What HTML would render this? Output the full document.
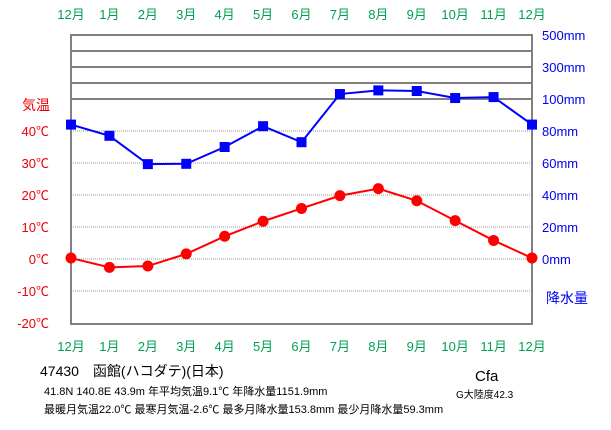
<!DOCTYPE html>
<html><head><meta charset="utf-8"><style>
body{margin:0;background:#fff;width:611px;height:425px;overflow:hidden}
svg{font-family:"Liberation Sans","Noto Sans CJK JP",sans-serif}
</style></head><body>
<svg id="c" width="611" height="425">
<g id="grid"></g>
<g id="labels"></g>
<g id="series"></g>
<text x="40" y="376" font-size="14">47430　函館(ハコダテ)(日本)</text>
<text x="44" y="395" font-size="11">41.8N  140.8E  43.9m  年平均気温9.1℃  年降水量1151.9mm</text>
<text x="44" y="413" font-size="11">最暖月気温22.0℃ 最寒月気温-2.6℃ 最多月降水量153.8mm 最少月降水量59.3mm</text>
<text x="475" y="381" font-size="15">Cfa</text>
<text x="456" y="398" font-size="10">G大陸度42.3</text>
</svg>
<script>
const months=["12月","1月","2月","3月","4月","5月","6月","7月","8月","9月","10月","11月","12月"];
const temps=[0.3,-2.6,-2.2,1.6,7.1,11.8,15.8,19.8,22.0,18.2,12.0,5.8,0.3];
const precip=[84,77,59.3,59.5,70,83,73,131,153.8,150,106,112,84];
const tempTicks=[40,30,20,10,0,-10,-20];
const precipTicks=[80,60,40,20,0];
const precipTopTicks=[500,300,100];
const NS="http://www.w3.org/2000/svg";
const X0=71,X1=532,Y0=35,Y1=324;
const xs=i=>X0+(X1-X0)*i/12;
const yT=t=>259-t*3.2;
const yP=p=>p<=100?259-p*1.6:99-(p-100)*0.16;
function mk(tag,at,parent){const e=document.createElementNS(NS,tag);for(const k in at)e.setAttribute(k,at[k]);document.getElementById(parent).appendChild(e);return e;}
// dotted temperature lines
tempTicks.forEach(t=>{if(t>-20){const l=mk('line',{x1:X0,x2:X1,y1:yT(t),y2:yT(t),stroke:'#999','stroke-dasharray':'1,1','stroke-width':1},'grid');

}});
[200,300,400,100].forEach(p=>{const l=mk('line',{x1:X0,x2:X1,y1:yP(p),y2:yP(p),stroke:'#808080','stroke-width':2},'grid');

});
const fr=mk('rect',{x:X0,y:Y0,width:X1-X0,height:Y1-Y0,fill:'none',stroke:'#808080','stroke-width':2},'grid');


months.forEach((m,i)=>{[19,351].forEach(y=>{const t=mk('text',{x:xs(i),y:y,'text-anchor':'middle','font-size':13,fill:'#00a050'},'labels');t.textContent=m;

});});
tempTicks.forEach(v=>{const t=mk('text',{x:49,y:yT(v)+5,'text-anchor':'end','font-size':13,fill:'#f00000'},'labels');t.textContent=v+'℃';

});
const tt=mk('text',{x:22,y:110,'font-size':14,fill:'#f00000'},'labels');tt.textContent='気温';


precipTicks.forEach(v=>{const t=mk('text',{x:542,y:yP(v)+5,'font-size':13,fill:'#0000f0'},'labels');t.textContent=v+'mm';

});
precipTopTicks.forEach(v=>{const t=mk('text',{x:542,y:yP(v)+5,'font-size':13,fill:'#0000f0'},'labels');t.textContent=v+'mm';

});
const pt=mk('text',{x:546,y:303,'font-size':14,fill:'#0000f0'},'labels');pt.textContent='降水量';


const pl=mk('polyline',{points:precip.map((p,i)=>xs(i)+','+yP(p)).join(' '),fill:'none',stroke:'#0000ff','stroke-width':2},'series');


precip.forEach((p,i)=>{const r=mk('rect',{x:xs(i)-5,y:yP(p)-5,width:10,height:10,fill:'#0000ff'},'series');

});
const tl=mk('polyline',{points:temps.map((t,i)=>xs(i)+','+yT(t)).join(' '),fill:'none',stroke:'#ff0000','stroke-width':2},'series');


temps.forEach((t,i)=>{const c=mk('circle',{cx:xs(i),cy:yT(t),r:5.5,fill:'#ff0000'},'series');

});
</script>
</body></html>
